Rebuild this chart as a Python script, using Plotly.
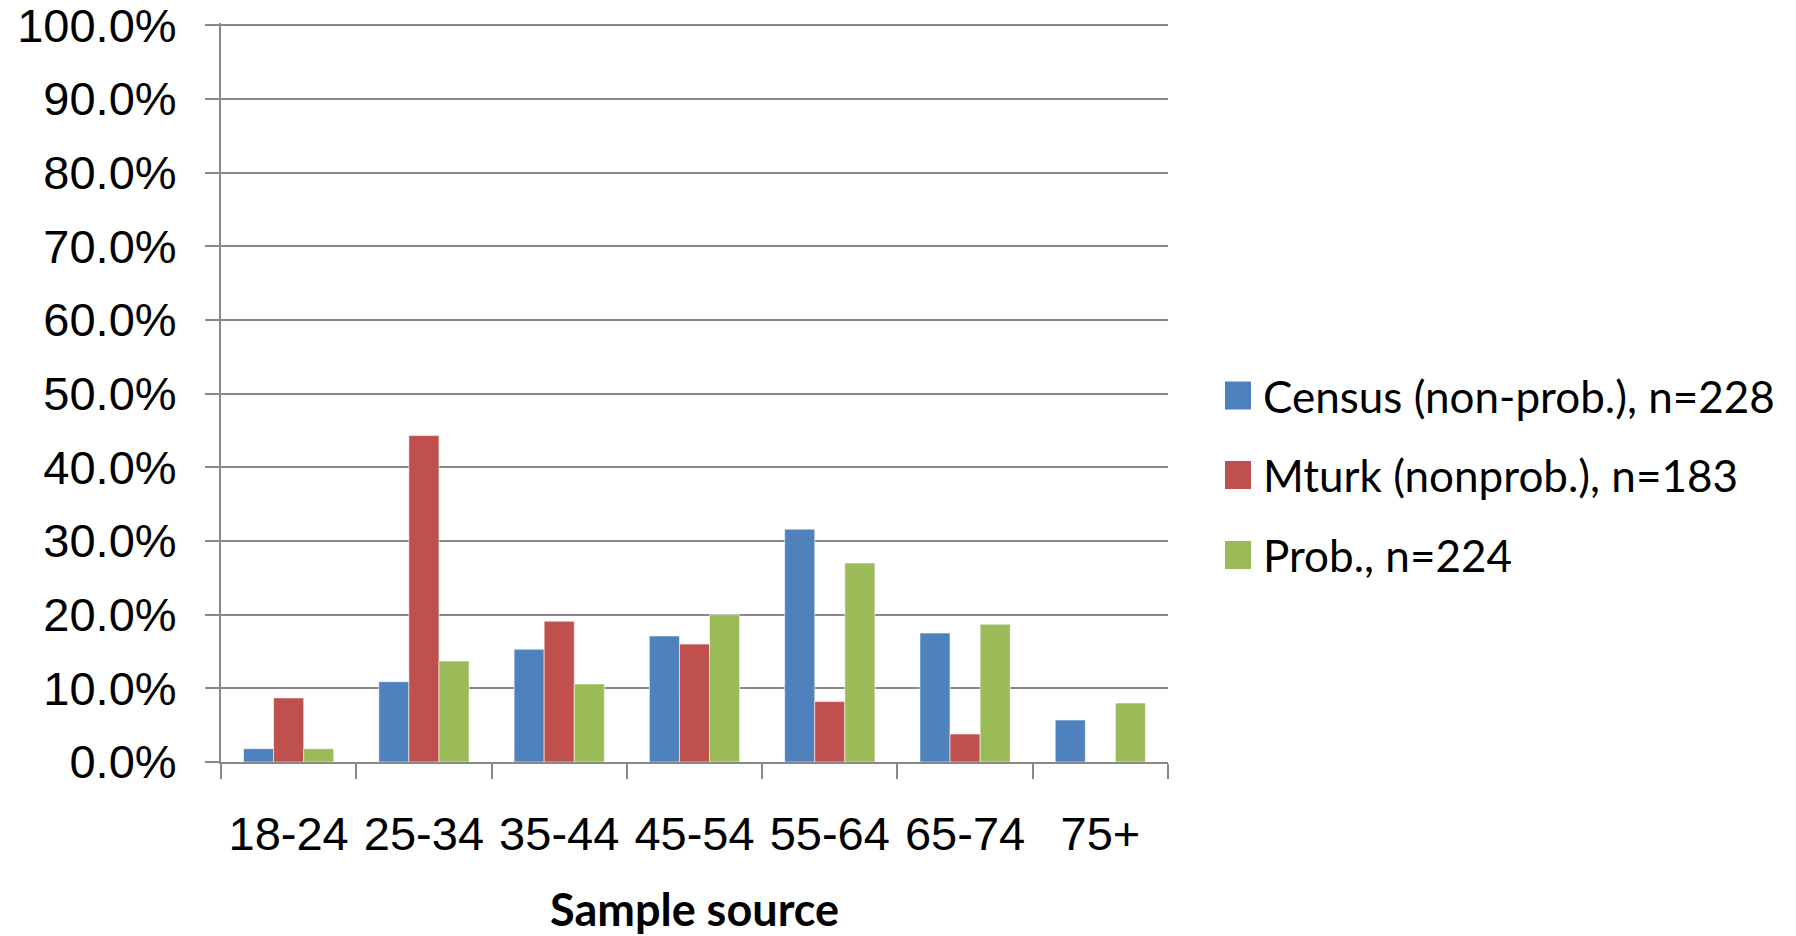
import plotly.graph_objects as go

# Age groups and share of respondents per sample source
age_groups = ["18-24", "25-34", "35-44", "45-54", "55-64", "65-74", "75+"]
census = [0.018, 0.109, 0.153, 0.171, 0.316, 0.175, 0.057]
mturk = [0.087, 0.443, 0.191, 0.160, 0.082, 0.038, 0.0]
prob = [0.018, 0.137, 0.106, 0.200, 0.270, 0.187, 0.080]

series_names = ["Census (non-prob.), n=228", "Mturk (nonprob.), n=183", "Prob., n=224"]
series_values = [census, mturk, prob]
series_colors = ["#4F81BD", "#C0504D", "#9BBB59"]

W, H = 1796, 936
M_L, M_R, M_T, M_B = 221, 628, 23, 174
Y_TOP = 1.003

fig = go.Figure()
for name, vals, col in zip(series_names, series_values, series_colors):
    fig.add_trace(go.Bar(
        x=age_groups, y=vals, name=name,
        marker=dict(color=col, line=dict(color="rgba(255,255,255,0.55)", width=1)),
        showlegend=False,
    ))

grid_col = "#898989"

fig.update_layout(
    width=W, height=H,
    margin=dict(l=M_L, r=M_R, t=M_T, b=M_B, pad=0, autoexpand=False),
    paper_bgcolor="white", plot_bgcolor="white",
    barmode="group", bargap=0.333, bargroupgap=0.0,
    font=dict(family="Liberation Sans, Arial, sans-serif", color="black"),
    xaxis=dict(
        type="category",
        automargin=False,
        showline=True, linecolor=grid_col, linewidth=2,
        ticks="outside", ticklen=15, tickwidth=2, tickcolor=grid_col,
        tickson="boundaries",
        showgrid=False,
        tickangle=0,
        tickfont=dict(family="Liberation Sans, Arial", size=47, color="black"),
        ticklabelstandoff=30,
    ),
    yaxis=dict(
        automargin=False,
        range=[0, Y_TOP], dtick=0.1, tick0=0,
        tickformat=".1%",
        showline=True, linecolor=grid_col, linewidth=2,
        ticks="outside", ticklen=14, tickwidth=2, tickcolor=grid_col,
        showgrid=True, gridcolor=grid_col, gridwidth=2,
        zeroline=False,
        tickfont=dict(family="Liberation Sans, Arial", size=47, color="black"),
        ticklabelstandoff=19,
        ticklabeloverflow="allow",
    ),
)

plot_h = H - M_T - M_B
plot_w = W - M_L - M_R

# Axis title under the category labels
fig.add_annotation(
    text="<b>Sample source</b>", xref="paper", yref="paper",
    x=0.5, y=-(909 - (H - M_B)) / plot_h, xanchor="center", yanchor="middle",
    showarrow=False, font=dict(family="Lato, Open Sans, sans-serif", size=45, color="black"),
)

# Legend built from squares and labels at the right of the plot
legend_rows_y = [395.5, 475.0, 555.0]
sq_x0, sq_x1, sq_half = 1225, 1251, 14
for name, col, yc in zip(series_names, series_colors, legend_rows_y):
    fig.add_shape(
        type="rect", xref="paper", yref="paper",
        x0=(sq_x0 - M_L) / plot_w, x1=(sq_x1 - M_L) / plot_w,
        y0=(H - M_B - (yc + sq_half)) / plot_h, y1=(H - M_B - (yc - sq_half)) / plot_h,
        fillcolor=col, line=dict(width=0),
    )
    fig.add_annotation(
        text=name, xref="paper", yref="paper",
        x=(1261 - M_L) / plot_w, y=(H - M_B - yc) / plot_h,
        xanchor="left", yanchor="middle", showarrow=False,
        font=dict(family="Lato, Open Sans, sans-serif", size=44, color="black"),
    )

fig.write_html("out.html")
